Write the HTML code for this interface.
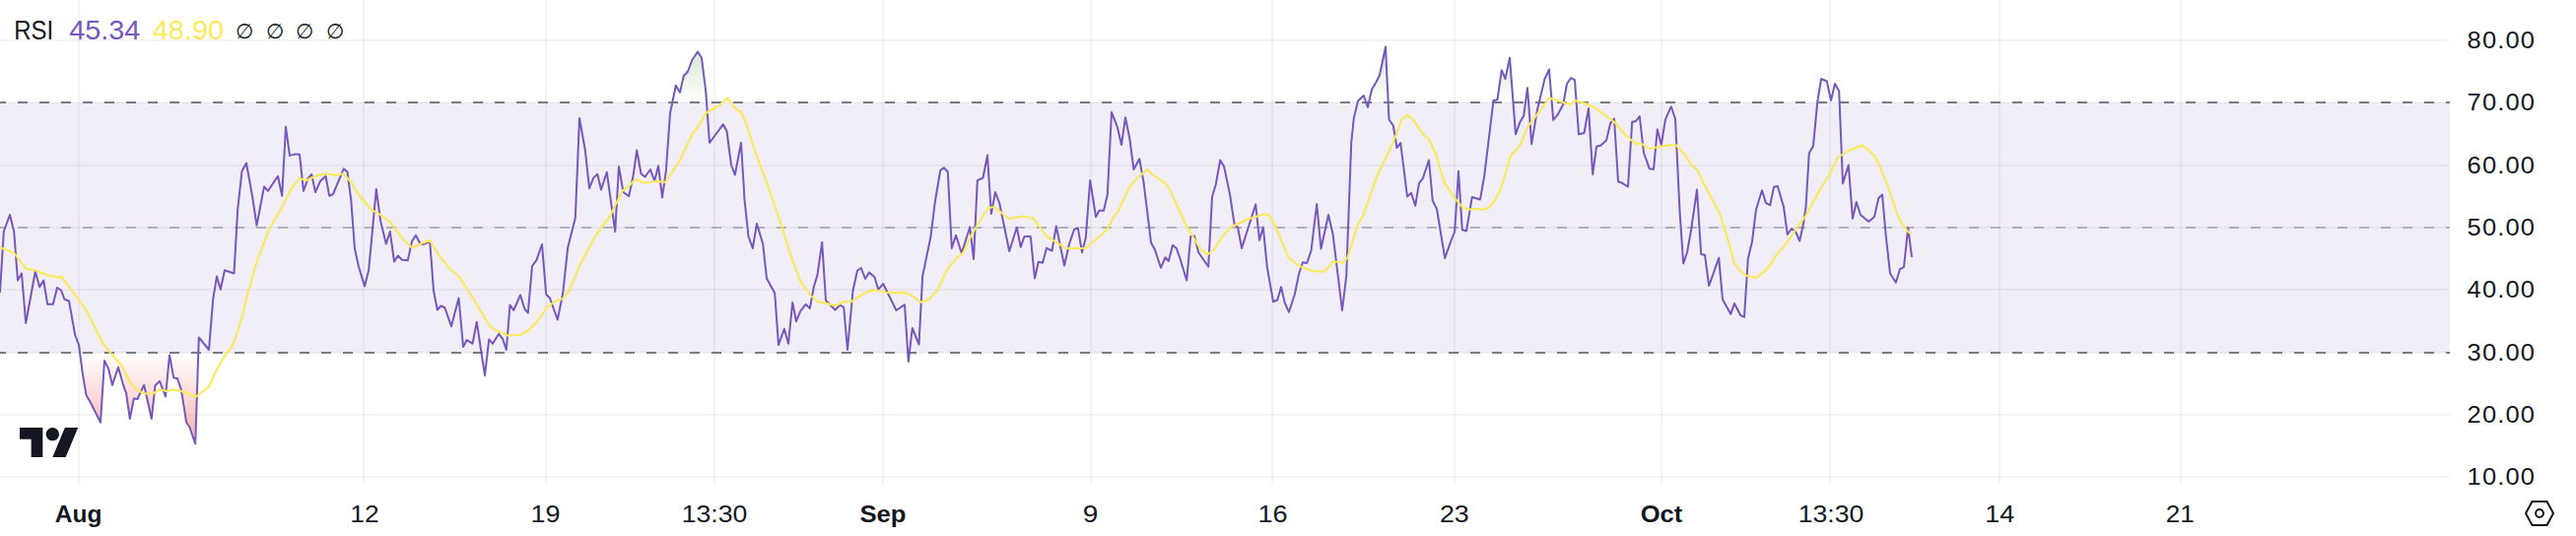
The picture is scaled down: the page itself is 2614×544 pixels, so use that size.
<!DOCTYPE html>
<html lang="en"><head><meta charset="utf-8"><title>RSI</title>
<style>html,body{margin:0;padding:0;background:#fff}body{width:2614px;height:544px;overflow:hidden}svg{display:block}text{font-family:"Liberation Sans",Arial,sans-serif;fill:#131722}</style></head><body>
<svg width="2614" height="544" viewBox="0 0 2614 544">
<defs>
<linearGradient id="gg" gradientUnits="userSpaceOnUse" x1="0" y1="-85.7" x2="0" y2="104.3"><stop offset="0" stop-color="#67ad5b" stop-opacity="1"/><stop offset="1" stop-color="#67ad5b" stop-opacity="0"/></linearGradient>
<linearGradient id="rg" gradientUnits="userSpaceOnUse" x1="0" y1="357.7" x2="0" y2="547.7"><stop offset="0" stop-color="#ec5f59" stop-opacity="0"/><stop offset="1" stop-color="#ec5f59" stop-opacity="1"/></linearGradient>
<clipPath id="ct"><rect x="0" y="0" width="2486" height="104"/></clipPath>
<clipPath id="cb"><rect x="0" y="358" width="2486" height="134"/></clipPath>
<clipPath id="cp"><rect x="0" y="0" width="2614" height="492"/></clipPath>
</defs>
<rect width="2614" height="544" fill="#fff"/>
<path d="M80,0V492M369,0V492M554,0V492M725,0V492M896,0V492M1107,0V492M1291,0V492M1476,0V492M1686,0V492M1857,0V492M2029,0V492M2213,0V492" stroke="#2a2e39" stroke-opacity="0.055" stroke-width="2" fill="none"/>
<path d="M0,484H2486M0,421H2486M0,358H2486M0,294H2486M0,231H2486M0,168H2486M0,104H2486M0,41H2486" stroke="#2a2e39" stroke-opacity="0.055" stroke-width="2" fill="none"/>
<rect x="0" y="104" width="2486" height="254" fill="#7859bc" fill-opacity="0.1"/>
<path d="M-4,104H2486M-4,358H2486" stroke="#787b86" stroke-width="2" stroke-dasharray="10 12" fill="none"/>
<path d="M-4,231H2486" stroke="#787b86" stroke-opacity="0.5" stroke-width="2" stroke-dasharray="10 12" fill="none"/>
<path d="M0,104 L0,297 L3.8,235 L10,218 L14.2,235 L18,284.5 L22,277.5 L26.2,328 L35.8,275.5 L40.2,291.2 L44.2,284.5 L48.2,308.8 L53.8,308.8 L58,292 L62,294.5 L65.5,303.8 L70,305.5 L76.2,340 L80,350 L83.8,378.8 L87.5,400.9 L92,408.8 L102,428.8 L106,366 L110,374.1 L114,390.9 L120,372.8 L125,390.6 L128,398.8 L131.8,425 L135.8,404.5 L139.5,405 L146.2,390.8 L153.8,425 L157.5,391.2 L162,386.9 L168,402.5 L172,360.5 L176.2,383.4 L180,384.1 L183.8,395.2 L189.2,428.8 L192.5,433.8 L198.2,450.5 L201.8,342.5 L212,355 L216.2,303.8 L220,280.6 L223.8,293.8 L228,274.2 L237.5,277.5 L241.2,212.5 L245.5,173.8 L250,165.5 L256.2,200 L260.5,228.8 L268,189.5 L272,193.8 L282,178.8 L286.2,198.8 L290,128.8 L294,157.9 L300,156.4 L304,156.7 L308,193.8 L312.5,181.2 L316.2,177 L320,195 L325,183.8 L330.5,178.8 L334.2,198.8 L338,197 L348.8,171.2 L352.5,174.5 L356.2,202.5 L360,252.5 L363.8,270 L370,290.5 L374.2,273.8 L381.8,192 L386.2,224.5 L391.8,247.5 L395.8,235 L400,265.5 L403.8,259.5 L408,263.8 L413.8,264.2 L418,245 L422,238.8 L426.2,247 L429.5,248 L436.2,245 L440,295 L443.8,314.5 L447.5,310.5 L451.2,312 L458,331.2 L465.5,302.5 L470,352 L473.8,345 L479.5,348.8 L483.8,326.8 L492,381.2 L496.2,344.5 L500,348.8 L506.2,338.8 L510,343.8 L513.8,355 L517.5,309.5 L521.2,315 L528,299.5 L532.5,313.8 L535.8,317.5 L540,270 L544.5,263.8 L550,248 L554.2,298.8 L558,302.5 L565.8,324.5 L571.2,297.5 L576.2,251.2 L583.8,221.2 L588,120 L593.8,152.5 L598,191.2 L602.2,180.6 L606.2,176.6 L610,192.5 L615.8,174.8 L624.2,235 L628,169.1 L632.5,195 L638.2,199.1 L642.5,178.8 L646.2,152.5 L650.5,176.2 L654.5,179.5 L660,172 L664.2,183.8 L668,168.2 L672,200.5 L675.8,173.8 L680,115 L685.8,86.8 L690,93.8 L693.8,77 L698,72.5 L702.5,60.5 L708,52.5 L712,58.8 L716.2,92.5 L720,145 L733.8,126.2 L737.5,133 L742,167.5 L745.8,177.5 L752,145 L755.5,202.5 L759.5,240 L763.8,252 L768,227 L774.2,247.5 L778,282.5 L786.2,297.5 L790,350 L795.8,333.8 L800,348.8 L804.2,307 L808,326.2 L812,316.2 L817.5,308.8 L821.8,313 L825.8,291.2 L829.5,278.8 L834.2,245.8 L838,305 L847.5,314.5 L852.5,309.5 L856.2,312 L860,355 L865.5,295 L870,274.5 L873.8,272 L878,283 L882,276.5 L887.5,281.2 L891.2,293.8 L896.2,288 L909.5,315 L918,309.2 L921.8,367 L925.8,333 L932.5,349.5 L936.2,280 L944.5,240 L948.8,205 L954.2,173 L957.8,170.2 L961.8,174.5 L965.8,252 L970,238.8 L975.8,257 L984.2,230.5 L988,263 L991.8,183.2 L997.5,180.5 L1002,157.5 L1005.8,217 L1010,195 L1014.2,206.2 L1024.2,255 L1031.8,230.8 L1035.8,250.8 L1039.5,240 L1045.8,240 L1050,282.5 L1053.8,265.8 L1058,266.8 L1062,251.8 L1067.5,254.5 L1071.8,229.5 L1080,269.5 L1085,247.5 L1090,233 L1093.8,231.2 L1098,256.2 L1101.8,241.2 L1106.2,183 L1112,220 L1115.5,213.8 L1120,213.8 L1123.8,197.5 L1128,113.8 L1133.8,128.8 L1138,147 L1142,119.2 L1146.2,140 L1150.5,172 L1156.2,161.2 L1160.5,185 L1168,246.2 L1171.8,253 L1178,271.8 L1182.5,261.2 L1185.8,265 L1190,248.8 L1193.8,252 L1197.5,262.5 L1204.2,284.5 L1208.2,240 L1212,239.5 L1216.2,256.2 L1226.2,270.8 L1230,200 L1233.8,187 L1238.2,162.5 L1242,168.8 L1248,197 L1252.5,227 L1256.2,231.2 L1260,252 L1274.2,207.5 L1278,243.8 L1281.8,230.5 L1285.8,271.2 L1292,306.2 L1296.2,304.5 L1300,291.2 L1303.8,307.5 L1308,316.8 L1313.8,298.8 L1318.2,277.5 L1322,266.2 L1326.2,267 L1330.5,254.5 L1336.2,207 L1340.5,252.5 L1348,218 L1352.5,237.5 L1362,315 L1366.2,280 L1371.2,145 L1373.8,120 L1378,102.5 L1383.8,97 L1388,108.8 L1392,90.8 L1396.2,83.8 L1400,76.2 L1406,47.5 L1409.5,121.2 L1413.8,127.5 L1417.5,150 L1421.2,145 L1428,199.5 L1432,195.8 L1436.2,208.8 L1440,185.8 L1443.8,181.2 L1450,162.5 L1453.8,203.8 L1458,212 L1466.2,262 L1471.8,246.2 L1476.2,235 L1480,173.8 L1483.8,233.2 L1488,234.5 L1493.8,200 L1502,202.5 L1506.2,178.8 L1515.5,102 L1519.5,101.2 L1523.8,71.2 L1527.5,80 L1532,58.8 L1538,136.2 L1542.5,123.8 L1546.2,117.5 L1550,89.2 L1554.2,146.2 L1560,111.2 L1567.5,80 L1572,70.5 L1576.2,121.8 L1580.8,116.2 L1586.2,106.2 L1590,85 L1594.2,79.2 L1598,81.2 L1602,136.2 L1607.5,135 L1612,110 L1616.2,177 L1620,148.8 L1624.5,147.5 L1630,142.5 L1634.2,125 L1638,120.5 L1642,184.2 L1646.2,185.8 L1652,189.5 L1656.2,123.8 L1660,123 L1663.8,118 L1668,155 L1673.8,171.2 L1678,171.8 L1681.8,131.2 L1685.8,147 L1690,121.2 L1695.8,108.2 L1700,120.5 L1704.5,214.5 L1708.2,267.5 L1712,256.2 L1716.2,232.5 L1722,192.5 L1726.2,258 L1730,258.8 L1734.2,290 L1744.2,261.8 L1748,303.8 L1756.2,318.8 L1760,308 L1766.2,320 L1770,321.8 L1773.8,262.5 L1778,245 L1782,212.5 L1788,193.2 L1792,206.2 L1796.2,208.2 L1800,190 L1803.8,188.8 L1810,210 L1813.8,238 L1818,232 L1822,235 L1826.2,244.5 L1830,227 L1832.5,210 L1835.8,155.5 L1840,148 L1844.2,103.8 L1848,80 L1853.8,82.5 L1858,102 L1862,85 L1866.2,92.5 L1870,186.2 L1875.8,167.5 L1880,221.8 L1883.8,205 L1888,218 L1896.2,225 L1902,220 L1906.2,201.2 L1910,197.5 L1913.8,240 L1918,277.5 L1923.8,286.8 L1928,273.2 L1932,271.2 L1936.2,231.2 L1940,260.8 L1940.0,104Z" fill="url(#gg)" clip-path="url(#ct)"/>
<path d="M0,358 L0,297 L3.8,235 L10,218 L14.2,235 L18,284.5 L22,277.5 L26.2,328 L35.8,275.5 L40.2,291.2 L44.2,284.5 L48.2,308.8 L53.8,308.8 L58,292 L62,294.5 L65.5,303.8 L70,305.5 L76.2,340 L80,350 L83.8,378.8 L87.5,400.9 L92,408.8 L102,428.8 L106,366 L110,374.1 L114,390.9 L120,372.8 L125,390.6 L128,398.8 L131.8,425 L135.8,404.5 L139.5,405 L146.2,390.8 L153.8,425 L157.5,391.2 L162,386.9 L168,402.5 L172,360.5 L176.2,383.4 L180,384.1 L183.8,395.2 L189.2,428.8 L192.5,433.8 L198.2,450.5 L201.8,342.5 L212,355 L216.2,303.8 L220,280.6 L223.8,293.8 L228,274.2 L237.5,277.5 L241.2,212.5 L245.5,173.8 L250,165.5 L256.2,200 L260.5,228.8 L268,189.5 L272,193.8 L282,178.8 L286.2,198.8 L290,128.8 L294,157.9 L300,156.4 L304,156.7 L308,193.8 L312.5,181.2 L316.2,177 L320,195 L325,183.8 L330.5,178.8 L334.2,198.8 L338,197 L348.8,171.2 L352.5,174.5 L356.2,202.5 L360,252.5 L363.8,270 L370,290.5 L374.2,273.8 L381.8,192 L386.2,224.5 L391.8,247.5 L395.8,235 L400,265.5 L403.8,259.5 L408,263.8 L413.8,264.2 L418,245 L422,238.8 L426.2,247 L429.5,248 L436.2,245 L440,295 L443.8,314.5 L447.5,310.5 L451.2,312 L458,331.2 L465.5,302.5 L470,352 L473.8,345 L479.5,348.8 L483.8,326.8 L492,381.2 L496.2,344.5 L500,348.8 L506.2,338.8 L510,343.8 L513.8,355 L517.5,309.5 L521.2,315 L528,299.5 L532.5,313.8 L535.8,317.5 L540,270 L544.5,263.8 L550,248 L554.2,298.8 L558,302.5 L565.8,324.5 L571.2,297.5 L576.2,251.2 L583.8,221.2 L588,120 L593.8,152.5 L598,191.2 L602.2,180.6 L606.2,176.6 L610,192.5 L615.8,174.8 L624.2,235 L628,169.1 L632.5,195 L638.2,199.1 L642.5,178.8 L646.2,152.5 L650.5,176.2 L654.5,179.5 L660,172 L664.2,183.8 L668,168.2 L672,200.5 L675.8,173.8 L680,115 L685.8,86.8 L690,93.8 L693.8,77 L698,72.5 L702.5,60.5 L708,52.5 L712,58.8 L716.2,92.5 L720,145 L733.8,126.2 L737.5,133 L742,167.5 L745.8,177.5 L752,145 L755.5,202.5 L759.5,240 L763.8,252 L768,227 L774.2,247.5 L778,282.5 L786.2,297.5 L790,350 L795.8,333.8 L800,348.8 L804.2,307 L808,326.2 L812,316.2 L817.5,308.8 L821.8,313 L825.8,291.2 L829.5,278.8 L834.2,245.8 L838,305 L847.5,314.5 L852.5,309.5 L856.2,312 L860,355 L865.5,295 L870,274.5 L873.8,272 L878,283 L882,276.5 L887.5,281.2 L891.2,293.8 L896.2,288 L909.5,315 L918,309.2 L921.8,367 L925.8,333 L932.5,349.5 L936.2,280 L944.5,240 L948.8,205 L954.2,173 L957.8,170.2 L961.8,174.5 L965.8,252 L970,238.8 L975.8,257 L984.2,230.5 L988,263 L991.8,183.2 L997.5,180.5 L1002,157.5 L1005.8,217 L1010,195 L1014.2,206.2 L1024.2,255 L1031.8,230.8 L1035.8,250.8 L1039.5,240 L1045.8,240 L1050,282.5 L1053.8,265.8 L1058,266.8 L1062,251.8 L1067.5,254.5 L1071.8,229.5 L1080,269.5 L1085,247.5 L1090,233 L1093.8,231.2 L1098,256.2 L1101.8,241.2 L1106.2,183 L1112,220 L1115.5,213.8 L1120,213.8 L1123.8,197.5 L1128,113.8 L1133.8,128.8 L1138,147 L1142,119.2 L1146.2,140 L1150.5,172 L1156.2,161.2 L1160.5,185 L1168,246.2 L1171.8,253 L1178,271.8 L1182.5,261.2 L1185.8,265 L1190,248.8 L1193.8,252 L1197.5,262.5 L1204.2,284.5 L1208.2,240 L1212,239.5 L1216.2,256.2 L1226.2,270.8 L1230,200 L1233.8,187 L1238.2,162.5 L1242,168.8 L1248,197 L1252.5,227 L1256.2,231.2 L1260,252 L1274.2,207.5 L1278,243.8 L1281.8,230.5 L1285.8,271.2 L1292,306.2 L1296.2,304.5 L1300,291.2 L1303.8,307.5 L1308,316.8 L1313.8,298.8 L1318.2,277.5 L1322,266.2 L1326.2,267 L1330.5,254.5 L1336.2,207 L1340.5,252.5 L1348,218 L1352.5,237.5 L1362,315 L1366.2,280 L1371.2,145 L1373.8,120 L1378,102.5 L1383.8,97 L1388,108.8 L1392,90.8 L1396.2,83.8 L1400,76.2 L1406,47.5 L1409.5,121.2 L1413.8,127.5 L1417.5,150 L1421.2,145 L1428,199.5 L1432,195.8 L1436.2,208.8 L1440,185.8 L1443.8,181.2 L1450,162.5 L1453.8,203.8 L1458,212 L1466.2,262 L1471.8,246.2 L1476.2,235 L1480,173.8 L1483.8,233.2 L1488,234.5 L1493.8,200 L1502,202.5 L1506.2,178.8 L1515.5,102 L1519.5,101.2 L1523.8,71.2 L1527.5,80 L1532,58.8 L1538,136.2 L1542.5,123.8 L1546.2,117.5 L1550,89.2 L1554.2,146.2 L1560,111.2 L1567.5,80 L1572,70.5 L1576.2,121.8 L1580.8,116.2 L1586.2,106.2 L1590,85 L1594.2,79.2 L1598,81.2 L1602,136.2 L1607.5,135 L1612,110 L1616.2,177 L1620,148.8 L1624.5,147.5 L1630,142.5 L1634.2,125 L1638,120.5 L1642,184.2 L1646.2,185.8 L1652,189.5 L1656.2,123.8 L1660,123 L1663.8,118 L1668,155 L1673.8,171.2 L1678,171.8 L1681.8,131.2 L1685.8,147 L1690,121.2 L1695.8,108.2 L1700,120.5 L1704.5,214.5 L1708.2,267.5 L1712,256.2 L1716.2,232.5 L1722,192.5 L1726.2,258 L1730,258.8 L1734.2,290 L1744.2,261.8 L1748,303.8 L1756.2,318.8 L1760,308 L1766.2,320 L1770,321.8 L1773.8,262.5 L1778,245 L1782,212.5 L1788,193.2 L1792,206.2 L1796.2,208.2 L1800,190 L1803.8,188.8 L1810,210 L1813.8,238 L1818,232 L1822,235 L1826.2,244.5 L1830,227 L1832.5,210 L1835.8,155.5 L1840,148 L1844.2,103.8 L1848,80 L1853.8,82.5 L1858,102 L1862,85 L1866.2,92.5 L1870,186.2 L1875.8,167.5 L1880,221.8 L1883.8,205 L1888,218 L1896.2,225 L1902,220 L1906.2,201.2 L1910,197.5 L1913.8,240 L1918,277.5 L1923.8,286.8 L1928,273.2 L1932,271.2 L1936.2,231.2 L1940,260.8 L1940.0,358Z" fill="url(#rg)" clip-path="url(#cb)"/>
<path d="M0,297 L3.8,235 L10,218 L14.2,235 L18,284.5 L22,277.5 L26.2,328 L35.8,275.5 L40.2,291.2 L44.2,284.5 L48.2,308.8 L53.8,308.8 L58,292 L62,294.5 L65.5,303.8 L70,305.5 L76.2,340 L80,350 L83.8,378.8 L87.5,400.9 L92,408.8 L102,428.8 L106,366 L110,374.1 L114,390.9 L120,372.8 L125,390.6 L128,398.8 L131.8,425 L135.8,404.5 L139.5,405 L146.2,390.8 L153.8,425 L157.5,391.2 L162,386.9 L168,402.5 L172,360.5 L176.2,383.4 L180,384.1 L183.8,395.2 L189.2,428.8 L192.5,433.8 L198.2,450.5 L201.8,342.5 L212,355 L216.2,303.8 L220,280.6 L223.8,293.8 L228,274.2 L237.5,277.5 L241.2,212.5 L245.5,173.8 L250,165.5 L256.2,200 L260.5,228.8 L268,189.5 L272,193.8 L282,178.8 L286.2,198.8 L290,128.8 L294,157.9 L300,156.4 L304,156.7 L308,193.8 L312.5,181.2 L316.2,177 L320,195 L325,183.8 L330.5,178.8 L334.2,198.8 L338,197 L348.8,171.2 L352.5,174.5 L356.2,202.5 L360,252.5 L363.8,270 L370,290.5 L374.2,273.8 L381.8,192 L386.2,224.5 L391.8,247.5 L395.8,235 L400,265.5 L403.8,259.5 L408,263.8 L413.8,264.2 L418,245 L422,238.8 L426.2,247 L429.5,248 L436.2,245 L440,295 L443.8,314.5 L447.5,310.5 L451.2,312 L458,331.2 L465.5,302.5 L470,352 L473.8,345 L479.5,348.8 L483.8,326.8 L492,381.2 L496.2,344.5 L500,348.8 L506.2,338.8 L510,343.8 L513.8,355 L517.5,309.5 L521.2,315 L528,299.5 L532.5,313.8 L535.8,317.5 L540,270 L544.5,263.8 L550,248 L554.2,298.8 L558,302.5 L565.8,324.5 L571.2,297.5 L576.2,251.2 L583.8,221.2 L588,120 L593.8,152.5 L598,191.2 L602.2,180.6 L606.2,176.6 L610,192.5 L615.8,174.8 L624.2,235 L628,169.1 L632.5,195 L638.2,199.1 L642.5,178.8 L646.2,152.5 L650.5,176.2 L654.5,179.5 L660,172 L664.2,183.8 L668,168.2 L672,200.5 L675.8,173.8 L680,115 L685.8,86.8 L690,93.8 L693.8,77 L698,72.5 L702.5,60.5 L708,52.5 L712,58.8 L716.2,92.5 L720,145 L733.8,126.2 L737.5,133 L742,167.5 L745.8,177.5 L752,145 L755.5,202.5 L759.5,240 L763.8,252 L768,227 L774.2,247.5 L778,282.5 L786.2,297.5 L790,350 L795.8,333.8 L800,348.8 L804.2,307 L808,326.2 L812,316.2 L817.5,308.8 L821.8,313 L825.8,291.2 L829.5,278.8 L834.2,245.8 L838,305 L847.5,314.5 L852.5,309.5 L856.2,312 L860,355 L865.5,295 L870,274.5 L873.8,272 L878,283 L882,276.5 L887.5,281.2 L891.2,293.8 L896.2,288 L909.5,315 L918,309.2 L921.8,367 L925.8,333 L932.5,349.5 L936.2,280 L944.5,240 L948.8,205 L954.2,173 L957.8,170.2 L961.8,174.5 L965.8,252 L970,238.8 L975.8,257 L984.2,230.5 L988,263 L991.8,183.2 L997.5,180.5 L1002,157.5 L1005.8,217 L1010,195 L1014.2,206.2 L1024.2,255 L1031.8,230.8 L1035.8,250.8 L1039.5,240 L1045.8,240 L1050,282.5 L1053.8,265.8 L1058,266.8 L1062,251.8 L1067.5,254.5 L1071.8,229.5 L1080,269.5 L1085,247.5 L1090,233 L1093.8,231.2 L1098,256.2 L1101.8,241.2 L1106.2,183 L1112,220 L1115.5,213.8 L1120,213.8 L1123.8,197.5 L1128,113.8 L1133.8,128.8 L1138,147 L1142,119.2 L1146.2,140 L1150.5,172 L1156.2,161.2 L1160.5,185 L1168,246.2 L1171.8,253 L1178,271.8 L1182.5,261.2 L1185.8,265 L1190,248.8 L1193.8,252 L1197.5,262.5 L1204.2,284.5 L1208.2,240 L1212,239.5 L1216.2,256.2 L1226.2,270.8 L1230,200 L1233.8,187 L1238.2,162.5 L1242,168.8 L1248,197 L1252.5,227 L1256.2,231.2 L1260,252 L1274.2,207.5 L1278,243.8 L1281.8,230.5 L1285.8,271.2 L1292,306.2 L1296.2,304.5 L1300,291.2 L1303.8,307.5 L1308,316.8 L1313.8,298.8 L1318.2,277.5 L1322,266.2 L1326.2,267 L1330.5,254.5 L1336.2,207 L1340.5,252.5 L1348,218 L1352.5,237.5 L1362,315 L1366.2,280 L1371.2,145 L1373.8,120 L1378,102.5 L1383.8,97 L1388,108.8 L1392,90.8 L1396.2,83.8 L1400,76.2 L1406,47.5 L1409.5,121.2 L1413.8,127.5 L1417.5,150 L1421.2,145 L1428,199.5 L1432,195.8 L1436.2,208.8 L1440,185.8 L1443.8,181.2 L1450,162.5 L1453.8,203.8 L1458,212 L1466.2,262 L1471.8,246.2 L1476.2,235 L1480,173.8 L1483.8,233.2 L1488,234.5 L1493.8,200 L1502,202.5 L1506.2,178.8 L1515.5,102 L1519.5,101.2 L1523.8,71.2 L1527.5,80 L1532,58.8 L1538,136.2 L1542.5,123.8 L1546.2,117.5 L1550,89.2 L1554.2,146.2 L1560,111.2 L1567.5,80 L1572,70.5 L1576.2,121.8 L1580.8,116.2 L1586.2,106.2 L1590,85 L1594.2,79.2 L1598,81.2 L1602,136.2 L1607.5,135 L1612,110 L1616.2,177 L1620,148.8 L1624.5,147.5 L1630,142.5 L1634.2,125 L1638,120.5 L1642,184.2 L1646.2,185.8 L1652,189.5 L1656.2,123.8 L1660,123 L1663.8,118 L1668,155 L1673.8,171.2 L1678,171.8 L1681.8,131.2 L1685.8,147 L1690,121.2 L1695.8,108.2 L1700,120.5 L1704.5,214.5 L1708.2,267.5 L1712,256.2 L1716.2,232.5 L1722,192.5 L1726.2,258 L1730,258.8 L1734.2,290 L1744.2,261.8 L1748,303.8 L1756.2,318.8 L1760,308 L1766.2,320 L1770,321.8 L1773.8,262.5 L1778,245 L1782,212.5 L1788,193.2 L1792,206.2 L1796.2,208.2 L1800,190 L1803.8,188.8 L1810,210 L1813.8,238 L1818,232 L1822,235 L1826.2,244.5 L1830,227 L1832.5,210 L1835.8,155.5 L1840,148 L1844.2,103.8 L1848,80 L1853.8,82.5 L1858,102 L1862,85 L1866.2,92.5 L1870,186.2 L1875.8,167.5 L1880,221.8 L1883.8,205 L1888,218 L1896.2,225 L1902,220 L1906.2,201.2 L1910,197.5 L1913.8,240 L1918,277.5 L1923.8,286.8 L1928,273.2 L1932,271.2 L1936.2,231.2 L1940,260.8" stroke="#7557bd" stroke-width="2" fill="none" stroke-linejoin="round" stroke-linecap="butt"/>
<path d="M0,251.2 L13.8,256.2 L26.2,272.5 L37.5,275 L48.8,279.8 L58.8,281.1 L62.5,281 L75,297.5 L87.5,315 L103.8,347.5 L112.5,358.8 L122.5,370 L132.5,388.8 L140,396.6 L147.5,399.5 L155,399.5 L162.5,395.2 L168.8,397 L175,395.5 L182.5,396.4 L192.5,400 L198.2,403 L205,397.8 L212,392.5 L220,375 L228.8,360 L235,352.5 L240,340 L246.2,320 L250,302.5 L253.8,290 L260,267.5 L272.5,233.8 L285,212.5 L295,192.5 L303.8,181.2 L311.2,183 L320,178.8 L330,176.2 L340,178 L348.8,176.2 L356.2,185 L363.8,197.5 L377.5,213.8 L382.5,215.5 L396.2,225.5 L407.5,241.2 L418,251.2 L436.2,243.8 L445,258.8 L457.5,273.8 L466.2,281.2 L475,295 L487.5,315 L496.2,330 L501.2,334.5 L507.5,337 L515,340.5 L527.5,340 L536.2,335.5 L545,326.2 L555,312.5 L562.5,306.2 L571.2,303 L577.5,295 L582.5,283.1 L589.4,266.9 L603.8,240.6 L610,231.2 L618.8,220 L631.2,194.1 L638.8,188 L644.9,181.9 L653.8,185.8 L660,184.5 L667.5,184 L675,185 L682.5,173.8 L690,162.5 L702.5,136.2 L707.5,130 L716.2,115 L725,109.5 L730,107 L738,99.5 L746.2,110 L752,113.8 L757.5,126.2 L767.5,157.5 L773.8,173.8 L785,205 L795,235 L801.2,256.2 L812.5,286.2 L822.5,300 L830,306.2 L837.5,307.5 L847.5,310.5 L856.2,306.2 L863.8,306.2 L875,298.8 L885,294.2 L891.2,295 L900,297 L917.5,297 L925,300 L935,306.8 L942.5,303.8 L951.2,295 L960.6,274.4 L970,262.5 L977.5,256.2 L985,240 L993.8,225 L1002.5,211.2 L1008.8,210 L1023.8,222 L1038.8,219.5 L1048.8,221.8 L1062.5,240.5 L1072.5,246.2 L1081.2,252 L1101.2,252 L1110,245 L1123.8,232.5 L1130,220 L1135,213.8 L1146.2,189.5 L1155,180 L1164.1,171.9 L1169.4,177 L1181.2,185 L1186.9,191.9 L1195,210 L1205,231.2 L1218.8,253.8 L1225.5,258.2 L1232.5,252.5 L1241.2,238.8 L1250,230 L1266.2,222.5 L1282.5,217.5 L1287.5,218.2 L1293.8,228.8 L1307.5,261.2 L1317.5,269.5 L1331.2,275 L1343.8,275.8 L1352.5,266.2 L1357.5,265.5 L1362.5,267 L1367.5,261.2 L1377.5,228.8 L1383.8,217.5 L1395,185 L1401.2,170 L1410,152.5 L1417.5,135 L1422,121.8 L1428.2,116.8 L1433.8,121.2 L1445,137.5 L1450,141.2 L1457.5,157.5 L1465.5,185 L1476.2,201.2 L1485,211.2 L1491.2,212.5 L1497.5,211.8 L1503.8,213 L1510,211.2 L1516.2,205 L1522.5,192.5 L1527.5,177.5 L1532.5,158.8 L1542.5,147.5 L1550,128.8 L1555,122.5 L1572,99.5 L1580,102 L1593.8,106.2 L1598,102 L1610,105.5 L1617.5,108.8 L1626.2,115 L1638,123.8 L1650,137.5 L1660,146.2 L1665,145.5 L1673.8,150.8 L1685,148.8 L1695,147 L1701.2,147.5 L1710,157.5 L1716.2,167.5 L1722,172 L1727.5,183.8 L1737.5,202.5 L1745,216.2 L1752.5,240 L1760,267.5 L1765,273.8 L1771.2,279.5 L1782,282 L1790.6,275.4 L1797.5,267.5 L1802.5,258.8 L1812.5,247.5 L1822.5,232.5 L1832.5,218.8 L1847.5,191.2 L1856.2,177.5 L1865,160 L1876.2,152.5 L1882.5,150 L1890,147.5 L1896.2,152.5 L1902.5,158.8 L1907.5,168.8 L1913.8,183.8 L1921.2,205 L1926.2,220 L1931.2,228.8 L1936.2,235 L1940,238" stroke="#fce957" stroke-width="2.1" fill="none" stroke-linejoin="round" stroke-linecap="butt"/>
<g font-size="24" letter-spacing="1.1" clip-path="url(#cp)">
<text x="2503.6" y="492.0" textLength="69.6" lengthAdjust="spacingAndGlyphs">10.00</text>
<text x="2503.6" y="429.0" textLength="69.6" lengthAdjust="spacingAndGlyphs">20.00</text>
<text x="2503.6" y="366.0" textLength="69.6" lengthAdjust="spacingAndGlyphs">30.00</text>
<text x="2503.6" y="302.0" textLength="69.6" lengthAdjust="spacingAndGlyphs">40.00</text>
<text x="2503.6" y="239.0" textLength="69.6" lengthAdjust="spacingAndGlyphs">50.00</text>
<text x="2503.6" y="176.0" textLength="69.6" lengthAdjust="spacingAndGlyphs">60.00</text>
<text x="2503.6" y="112.0" textLength="69.6" lengthAdjust="spacingAndGlyphs">70.00</text>
<text x="2503.6" y="49.0" textLength="69.6" lengthAdjust="spacingAndGlyphs">80.00</text>
</g>
<g font-size="24" text-anchor="middle">
<text x="79.6" y="529.5" font-weight="700" textLength="47.6" lengthAdjust="spacingAndGlyphs">Aug</text>
<text x="370" y="529.5" textLength="29.4" lengthAdjust="spacingAndGlyphs">12</text>
<text x="553.6" y="529.5" textLength="30" lengthAdjust="spacingAndGlyphs">19</text>
<text x="725" y="529.5" textLength="66.6" lengthAdjust="spacingAndGlyphs">13:30</text>
<text x="896" y="529.5" font-weight="700" textLength="47.1" lengthAdjust="spacingAndGlyphs">Sep</text>
<text x="1106.6" y="529.5" textLength="15.6" lengthAdjust="spacingAndGlyphs">9</text>
<text x="1291.6" y="529.5" textLength="30.25" lengthAdjust="spacingAndGlyphs">16</text>
<text x="1475.8" y="529.5" textLength="29.8" lengthAdjust="spacingAndGlyphs">23</text>
<text x="1686" y="529.5" font-weight="700" textLength="42.6" lengthAdjust="spacingAndGlyphs">Oct</text>
<text x="1858" y="529.5" textLength="66.6" lengthAdjust="spacingAndGlyphs">13:30</text>
<text x="2029.3" y="529.5" textLength="30" lengthAdjust="spacingAndGlyphs">14</text>
<text x="2212.2" y="529.5" textLength="29" lengthAdjust="spacingAndGlyphs">21</text>
</g>
<g font-size="27.5">
<text x="14.2" y="40" textLength="40" lengthAdjust="spacingAndGlyphs">RSI</text>
<text x="70.2" y="40" textLength="72.2" lengthAdjust="spacingAndGlyphs" style="fill:#7557bd">45.34</text>
<text x="154.8" y="40" textLength="72.2" lengthAdjust="spacingAndGlyphs" style="fill:#fce957">48.90</text>
<text x="248.4" y="39.3" text-anchor="middle" font-size="21.2">∅</text>
<text x="279" y="39.3" text-anchor="middle" font-size="21.2">∅</text>
<text x="309.4" y="39.3" text-anchor="middle" font-size="21.2">∅</text>
<text x="340.2" y="39.3" text-anchor="middle" font-size="21.2">∅</text>
</g>
<g transform="translate(20,427.33) scale(1.6667)" fill="#131722"><path d="M14 22H7V11H0V4h14v18z"/><path d="M28 22h-8l7.5-18h8L28 22z"/><circle cx="20" cy="8" r="4"/></g>
<g fill="none" stroke="#131722" stroke-width="2" stroke-linejoin="round"><path d="M2563,521L2569.5,509H2584.5L2591,521L2584.5,533H2569.5Z"/><circle cx="2577" cy="521" r="3.9"/></g>
</svg></body></html>
